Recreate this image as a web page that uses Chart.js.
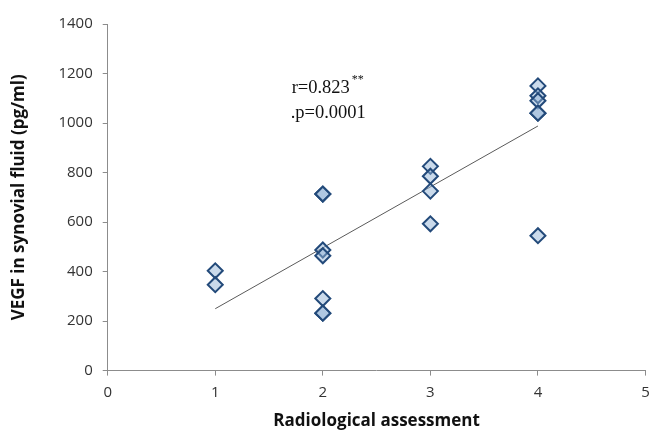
<!DOCTYPE html>
<html><head><meta charset="utf-8">
<script src="https://cdn.jsdelivr.net/npm/chart.js@4/dist/chart.umd.min.js"></script>
<style>html,body{margin:0;padding:0;background:#fff;overflow:hidden;width:650px;height:431px}#wrap{width:655px;height:431px;position:relative}</style>
</head><body><div id="wrap"><canvas id="c"></canvas></div>
<script>
const radiologicalScore = [1,1,2,2,2,2,2,2,2,3,3,3,3,4,4,4,4,4,4];
const vegfValues = [403,347,713,713,487,464,291,232,232,825,785,725,593,1150,1110,1090,1040,1040,545];
const trendX = [1,4];
const trendY = [250,988];
const xTicks = [0,1,2,3,4,5];
const yTicks = [0,200,400,600,800,1000,1200,1400];
const annotationLines = ["r=0.823**", ".p=0.0001"];

const points = radiologicalScore.map((x,i)=>({x:x,y:vegfValues[i]}));
const trend = trendX.map((x,i)=>({x:x,y:trendY[i]}));

const annot = {
  id:'annot',
  afterDatasetsDraw(chart){
    const ctx = chart.ctx; const xs = chart.scales.x, ys = chart.scales.y;
    ctx.save();
    ctx.fillStyle = '#111';
    ctx.font = '18.5px "Liberation Serif"';
    ctx.textBaseline = 'alphabetic';
    const x0 = xs.getPixelForValue(1.71);
    ctx.fillText('r=0.823', x0, ys.getPixelForValue(1121));
    const w = ctx.measureText('r=0.823').width;
    ctx.font = '12px "Liberation Serif"';
    ctx.fillText('**', x0 + w + 2, ys.getPixelForValue(1160));
    ctx.font = '18.5px "Liberation Serif"';
    ctx.fillText(annotationLines[1], x0 - 1, ys.getPixelForValue(1020));
    ctx.restore();
  }
};

new Chart(document.getElementById('c'), {
  type:'scatter',
  data:{datasets:[
    {type:'line', data:trend, borderColor:'#5a5a5a', borderWidth:1, pointRadius:0, fill:false, order:2},
    {data:points, pointStyle:'rectRot', pointRadius:7.5, pointHoverRadius:7.5,
     backgroundColor:'rgba(145,177,214,0.48)', borderColor:'#234a7a', borderWidth:2, order:1}
  ]},
  options:{
    responsive:true, maintainAspectRatio:false, animation:false,
    layout:{padding:{top:24,right:0,left:5,bottom:0}},
    plugins:{legend:{display:false}, tooltip:{enabled:false}},
    scales:{
      x:{type:'linear', min:0, max:5,
        afterBuildTicks(s){s.ticks = xTicks.map(v=>({value:v}));},
        afterFit(s){s.paddingRight = 0;},
        grid:{drawOnChartArea:false, drawTicks:true, tickLength:5, color:'#8c8c8c'},
        border:{color:'#8c8c8c', width:1},
        ticks:{color:'#333', font:{family:'"Open Sans"', size:15}, padding:8, callback:v=>String(v)},
        title:{display:true, text:'Radiological assessment', color:'#111', font:{family:'"Open Sans"', size:17, weight:'bold'}, padding:{top:1,bottom:0}}
      },
      y:{type:'linear', min:0, max:1400,
        afterBuildTicks(s){s.ticks = yTicks.map(v=>({value:v}));},
        grid:{drawOnChartArea:false, drawTicks:true, tickLength:5, color:'#8c8c8c'},
        border:{color:'#8c8c8c', width:1},
        ticks:{color:'#333', font:{family:'"Open Sans"', size:15}, padding:10, callback:v=>String(v)},
        title:{display:true, text:'VEGF in synovial fluid (pg/ml)', color:'#111', font:{family:'"Open Sans"', size:17, weight:'bold'}, padding:{bottom:19}}
      }
    }
  },
  plugins:[annot]
});
</script></body></html>
